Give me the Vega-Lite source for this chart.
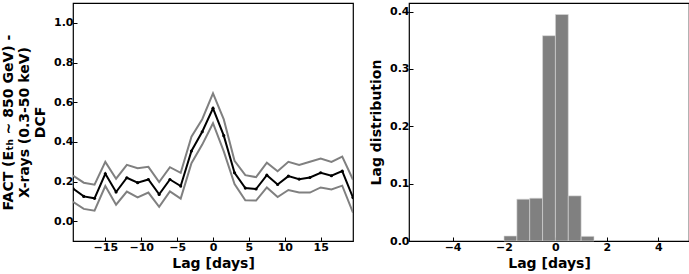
{
  "$schema": "https://vega.github.io/schema/vega-lite/v6.json",
  "padding": {"left": 0, "top": 2, "right": 1, "bottom": 0},
  "background": "white",
  "config": {
    "font": "DejaVu Sans",
    "view": {"stroke": "black", "strokeWidth": 1.2},
    "axis": {
      "grid": false,
      "domain": false,
      "tickColor": "black",
      "tickSize": -4,
      "tickWidth": 1,
      "labelFont": "DejaVu Sans",
      "labelFontWeight": "bold",
      "labelFontSize": 11,
      "labelColor": "black",
      "titleFont": "DejaVu Sans",
      "titleFontWeight": "bold",
      "titleFontSize": 14,
      "titleColor": "black",
      "labelPadding": 4
    },
    "concat": {"spacing": 14}
  },
  "datasets": {
    "dcf": [
      {"lag": -19.5, "dcf": 0.164, "lo": 0.098, "hi": 0.230},
      {"lag": -18, "dcf": 0.125, "lo": 0.062, "hi": 0.194},
      {"lag": -16.5, "dcf": 0.115, "lo": 0.053, "hi": 0.184},
      {"lag": -15, "dcf": 0.239, "lo": 0.177, "hi": 0.299},
      {"lag": -13.5, "dcf": 0.147, "lo": 0.083, "hi": 0.214},
      {"lag": -12, "dcf": 0.219, "lo": 0.149, "hi": 0.284},
      {"lag": -10.5, "dcf": 0.194, "lo": 0.120, "hi": 0.267},
      {"lag": -9, "dcf": 0.210, "lo": 0.144, "hi": 0.274},
      {"lag": -7.5, "dcf": 0.135, "lo": 0.072, "hi": 0.197},
      {"lag": -6, "dcf": 0.210, "lo": 0.150, "hi": 0.272},
      {"lag": -4.5, "dcf": 0.177, "lo": 0.114, "hi": 0.244},
      {"lag": -3, "dcf": 0.354, "lo": 0.292, "hi": 0.426},
      {"lag": -1.5, "dcf": 0.451, "lo": 0.386, "hi": 0.514},
      {"lag": 0, "dcf": 0.569, "lo": 0.494, "hi": 0.644},
      {"lag": 1.5, "dcf": 0.431, "lo": 0.352, "hi": 0.513},
      {"lag": 3, "dcf": 0.244, "lo": 0.187, "hi": 0.304},
      {"lag": 4.5, "dcf": 0.167, "lo": 0.105, "hi": 0.232},
      {"lag": 6, "dcf": 0.162, "lo": 0.104, "hi": 0.222},
      {"lag": 7.5, "dcf": 0.232, "lo": 0.170, "hi": 0.295},
      {"lag": 9, "dcf": 0.185, "lo": 0.122, "hi": 0.252},
      {"lag": 10.5, "dcf": 0.227, "lo": 0.157, "hi": 0.299},
      {"lag": 12, "dcf": 0.212, "lo": 0.145, "hi": 0.284},
      {"lag": 13.5, "dcf": 0.220, "lo": 0.144, "hi": 0.300},
      {"lag": 15, "dcf": 0.244, "lo": 0.170, "hi": 0.316},
      {"lag": 16.5, "dcf": 0.229, "lo": 0.160, "hi": 0.299},
      {"lag": 18, "dcf": 0.252, "lo": 0.179, "hi": 0.326},
      {"lag": 19.5, "dcf": 0.119, "lo": 0.043, "hi": 0.209}
    ],
    "hist": [
      {"start": -2.0, "end": -1.5, "density": 0.0087},
      {"start": -1.5, "end": -1.0, "density": 0.073},
      {"start": -1.0, "end": -0.5, "density": 0.0747},
      {"start": -0.5, "end": 0.0, "density": 0.358},
      {"start": 0.0, "end": 0.5, "density": 0.395},
      {"start": 0.5, "end": 1.0, "density": 0.0787},
      {"start": 1.0, "end": 1.5, "density": 0.0081}
    ]
  },
  "hconcat": [
    {
      "width": 280,
      "height": 238,
      "data": {"name": "dcf"},
      "layer": [
        {
          "mark": {"type": "line", "color": "#808080", "strokeWidth": 2, "clip": true},
          "encoding": {
            "x": {"field": "lag", "type": "quantitative", "scale": {"domain": [-19.5, 19.5], "nice": false}, "axis": {"values": [-15, -10, -5, 0, 5, 10, 15], "title": "Lag [days]"}},
            "y": {"field": "hi", "type": "quantitative", "scale": {"domain": [-0.1, 1.1], "nice": false, "zero": false}, "axis": {"values": [0, 0.2, 0.4, 0.6, 0.8, 1.0], "format": ".1f", "title": ["FACT (Eₜₕ ∼ 850 GeV) -", "X-rays (0.3-50 keV)", "DCF"], "titleLineHeight": 16, "titlePadding": 6}}
          }
        },
        {
          "mark": {"type": "line", "color": "#808080", "strokeWidth": 2, "clip": true},
          "encoding": {
            "x": {"field": "lag", "type": "quantitative"},
            "y": {"field": "lo", "type": "quantitative"}
          }
        },
        {
          "mark": {"type": "line", "color": "black", "strokeWidth": 2, "point": {"filled": true, "size": 10, "color": "black"}, "clip": true},
          "encoding": {
            "x": {"field": "lag", "type": "quantitative"},
            "y": {"field": "dcf", "type": "quantitative"}
          }
        }
      ]
    },
    {
      "width": 280,
      "height": 238,
      "data": {"name": "hist"},
      "mark": {"type": "bar", "color": "#808080", "stroke": "#d8d8d8", "strokeWidth": 0.6, "orient": "vertical"},
      "encoding": {
        "x": {"field": "start", "type": "quantitative", "scale": {"domain": [-5.5, 5], "nice": false}, "axis": {"values": [-4, -2, 0, 2, 4], "title": "Lag [days]"}},
        "x2": {"field": "end"},
        "y": {"field": "density", "type": "quantitative", "scale": {"domain": [0, 0.415], "nice": false}, "axis": {"values": [0, 0.1, 0.2, 0.3, 0.4], "format": ".1f", "title": "Lag distribution", "titlePadding": 6}},
        "y2": {"datum": 0}
      }
    }
  ]
}
